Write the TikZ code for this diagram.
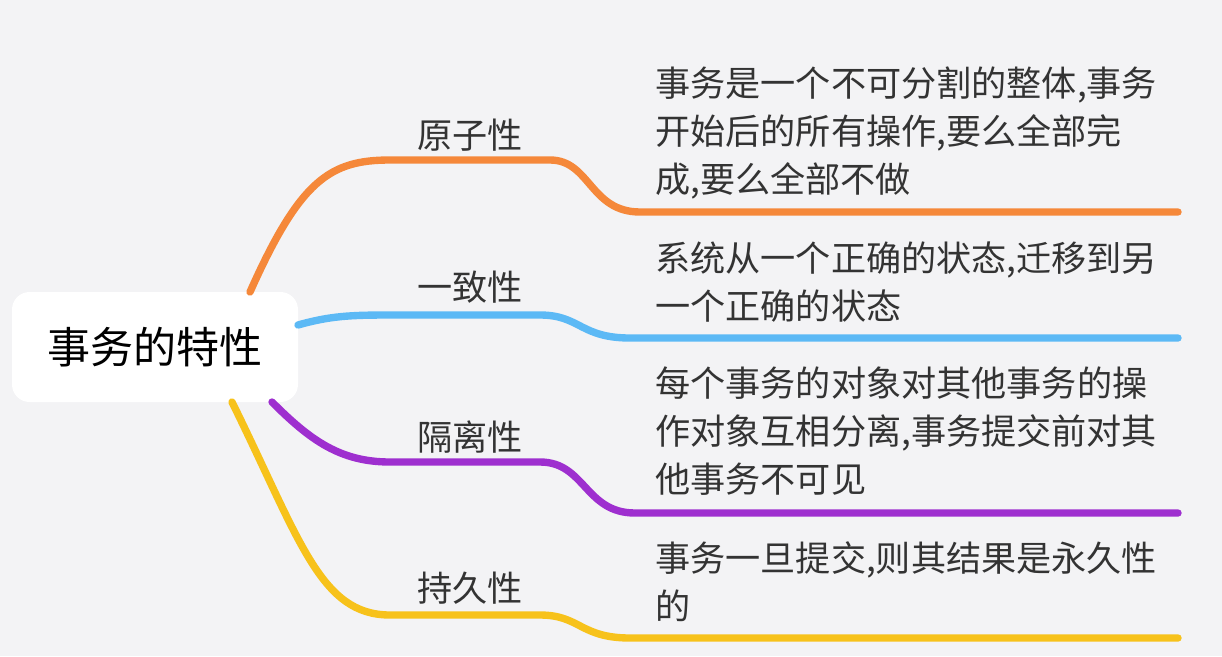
\documentclass[tikz,border=0pt]{standalone}
\usepackage{fontspec}
\setmainfont{Noto Sans CJK SC}
\definecolor{bg}{HTML}{F3F3F5}
\definecolor{cor}{HTML}{F5883A}
\definecolor{cbl}{HTML}{5CB9F5}
\definecolor{cpu}{HTML}{9E2FCF}
\definecolor{cye}{HTML}{F7C21B}
\begin{document}
\begin{tikzpicture}[x=0.02cm,y=-0.02cm,
  br/.style={line width=4.2pt,line cap=round},
  lab/.style={font=\fontsize{20}{22}\selectfont,text=black!80},
  desc/.style={font=\fontsize{20}{27.5}\selectfont,text=black!80,anchor=north west,align=left,inner sep=0pt}]
\fill[bg] (0,0) rectangle (1222,656);
\node[fill=white,rounded corners=10pt,minimum width=286*0.02cm,minimum height=110*0.02cm,font=\fontsize{24.5}{26}\selectfont] (root) at (155,347) {事务的特性};
% orange
\coordinate (o1) at (250,292);
\draw[br,cor] (o1) .. controls (300,180) and (330,160) .. (390,160) -- (550,160) .. controls (590,160) and (590,212) .. (640,212) -- (1178,212);
\node[lab] (l1) at (470,135) {原子性};
\node[desc] (d1) at (655,66) {事务是一个不可分割的整体,事务\\开始后的所有操作,要么全部完\\成,要么全部不做};
% blue
\coordinate (b1) at (298,325);
\draw[br,cbl] (b1) .. controls (330,316) and (350,315) .. (390,315) -- (540,315) .. controls (580,315) and (580,338) .. (630,338) -- (1178,338);
\node[lab] (l2) at (470,287) {一致性};
\node[desc] (d2) at (655,241) {系统从一个正确的状态,迁移到另\\一个正确的状态};
% purple
\coordinate (p1) at (272,402);
\draw[br,cpu] (p1) .. controls (310,440) and (340,462) .. (390,462) -- (540,462) .. controls (585,462) and (585,513) .. (635,513) -- (1178,513);
\node[lab] (l3) at (470,437) {隔离性};
\node[desc] (d3) at (655,366) {每个事务的对象对其他事务的操\\作对象互相分离,事务提交前对其\\他事务不可见};
% yellow
\coordinate (y1) at (232,402);
\draw[br,cye] (y1) .. controls (300,540) and (320,615) .. (390,615) -- (540,615) .. controls (580,615) and (580,638) .. (630,638) -- (1178,638);
\node[lab] (l4) at (470,588) {持久性};
\node[desc] (d4) at (655,541) {事务一旦提交,则其结果是永久性\\的};
\end{tikzpicture}
\end{document}
